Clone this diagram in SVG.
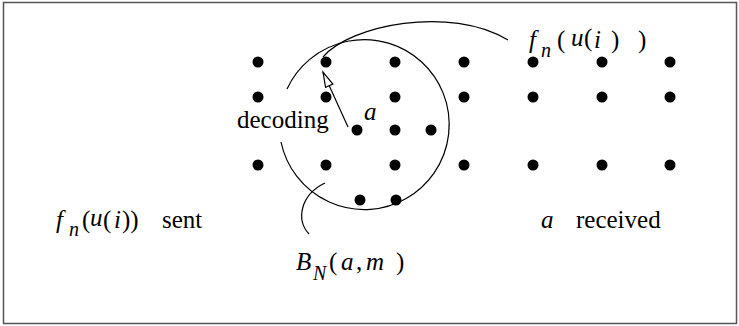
<svg xmlns="http://www.w3.org/2000/svg" width="739" height="326" viewBox="0 0 739 326">
<style>
.t{font-size:25px;fill:#000}
.i{font-style:italic}
.s{font-size:20px;font-style:italic}
.dot{fill:#000}
.ln{fill:none;stroke:#000;stroke-width:1.2}
</style>
<defs>
<marker id="ah" markerWidth="18" markerHeight="12" refX="16" refY="5" orient="auto" markerUnits="userSpaceOnUse">
<path d="M1,1 L16,5 L1,9 Z" fill="#fff" stroke="#000" stroke-width="1.2"/>
</marker>
</defs>
<rect x="3.5" y="2.5" width="733" height="321" fill="#fff" stroke="#555" stroke-width="1.5"/>
<g id="lattice">
<circle class="dot" cx="258" cy="62" r="5.5"/><circle class="dot" cx="326" cy="62" r="5.5"/><circle class="dot" cx="395" cy="62" r="5.5"/><circle class="dot" cx="464" cy="62" r="5.5"/><circle class="dot" cx="533" cy="62" r="5.5"/><circle class="dot" cx="602" cy="62" r="5.5"/><circle class="dot" cx="670" cy="62" r="5.5"/>
<circle class="dot" cx="258" cy="97" r="5.5"/><circle class="dot" cx="326" cy="97" r="5.5"/><circle class="dot" cx="395" cy="97" r="5.5"/><circle class="dot" cx="464" cy="97" r="5.5"/><circle class="dot" cx="533" cy="97" r="5.5"/><circle class="dot" cx="602" cy="97" r="5.5"/><circle class="dot" cx="670" cy="97" r="5.5"/>
<circle class="dot" cx="357" cy="130" r="5.5"/><circle class="dot" cx="395" cy="130" r="5.5"/><circle class="dot" cx="431" cy="130" r="5.5"/>
<circle class="dot" cx="258" cy="165" r="5.5"/><circle class="dot" cx="326" cy="165" r="5.5"/><circle class="dot" cx="395" cy="165" r="5.5"/><circle class="dot" cx="464" cy="165" r="5.5"/><circle class="dot" cx="533" cy="165" r="5.5"/><circle class="dot" cx="602" cy="165" r="5.5"/><circle class="dot" cx="670" cy="165" r="5.5"/>
<circle class="dot" cx="360" cy="200" r="5.5"/><circle class="dot" cx="396" cy="200" r="5.5"/>
</g>
<g id="ball">
<path class="ln" d="M287 89 A85 85 0 1 1 281 142"/>
</g>
<g id="connectors">
<path class="ln" d="M323 57 C350 25 450 5 508 40"/>
<path class="ln" d="M348 127 L323 72" marker-end="url(#ah)"/>
<path class="ln" d="M325 183 C300 195 296 220 309 234"/>
</g>
<g font-family="Liberation Serif">
<g id="label-decoding"><text class="t" x="237" y="128" font-family="Liberation Serif">decoding</text></g>
<g id="label-a"><text class="t i" x="364" y="120" font-family="Liberation Serif">a</text></g>
<g id="label-fn-top"><text class="t i" x="529" y="48" font-family="Liberation Serif">f</text><text class="t s" x="541" y="57" font-family="Liberation Serif">n</text><text class="t" x="557" y="48" font-family="Liberation Serif">(</text><text class="t i" x="571" y="46" font-family="Liberation Serif">u</text><text class="t" x="584" y="46" font-family="Liberation Serif">(</text><text class="t i" x="594" y="48" font-family="Liberation Serif">i</text><text class="t" x="611" y="48" font-family="Liberation Serif">)</text><text class="t" x="638" y="48" font-family="Liberation Serif">)</text></g>
<g id="label-sent"><text class="t i" x="56" y="228" font-family="Liberation Serif">f</text><text class="t s" x="69" y="236" font-family="Liberation Serif">n</text><text class="t" x="82" y="228" font-family="Liberation Serif">(</text><text class="t i" x="90" y="226" font-family="Liberation Serif">u</text><text class="t" x="103" y="228" font-family="Liberation Serif">(</text><text class="t i" x="114" y="228" font-family="Liberation Serif">i</text><text class="t" x="122" y="228" font-family="Liberation Serif">))</text><text class="t" x="162" y="228" font-family="Liberation Serif">sent</text></g>
<g id="label-received"><text class="t i" x="541" y="228" font-family="Liberation Serif">a</text><text class="t" x="576" y="228" font-family="Liberation Serif">received</text></g>
<g id="label-ball"><text class="t i" x="296" y="270" font-family="Liberation Serif">B</text><text class="t s" x="313" y="280" font-family="Liberation Serif">N</text><text class="t" x="329" y="270" font-family="Liberation Serif">(</text><text class="t i" x="341" y="270" font-family="Liberation Serif">a</text><text class="t" x="356" y="270" font-family="Liberation Serif">,</text><text class="t i" x="366" y="270" font-family="Liberation Serif">m</text><text class="t" x="396" y="270" font-family="Liberation Serif">)</text></g>
</g>
</svg>
